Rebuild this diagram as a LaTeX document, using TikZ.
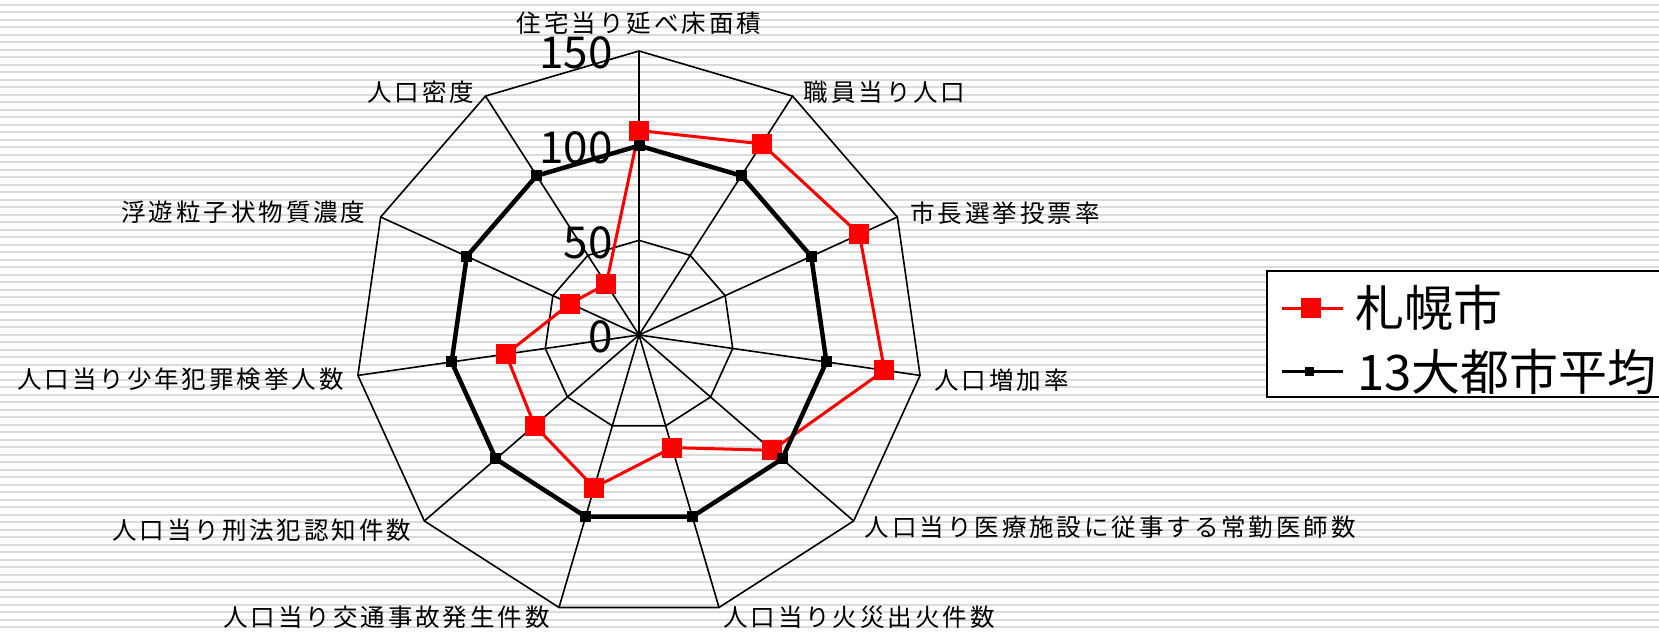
\documentclass[tikz,border=0pt]{standalone}
\usepackage{fontspec}
\setmainfont{Noto Sans CJK JP}
\newfontfamily\axisfont{Noto Sans CJK JP}[LetterSpace=12]
\usepackage{tikz}
\usetikzlibrary{calc}

\tikzset{
	axislabel/.style={font=\axisfont\fontsize{24.5}{25}\selectfont, inner sep=0pt},
	ticklabel/.style={font=\fontsize{44}{44}\selectfont, anchor=east, inner sep=0pt},
	legendtext/.style={font=\fontsize{49}{49}\selectfont, anchor=west, inner sep=0pt},
	webline/.style={line width=1.6pt, line join=miter},
	avgline/.style={line width=4.5pt, line join=miter},
	sapline/.style={red, line width=3pt, line join=miter},
	avgmark/.style={fill=black, minimum size=11pt, inner sep=0pt},
	sapmark/.style={fill=red, minimum size=20pt, inner sep=0pt},
}

\begin{document}
\begin{tikzpicture}[x=1pt,y=1pt]
	\useasboundingbox (0,0) rectangle (1659,634);
	\fill[white] (0,0) rectangle (1659,634);
	
	% striped background
	\foreach \k in {0,...,84} {
		\pgfmathsetmacro{\sy}{629-7.5*\k}
		\draw[black!14, line width=2pt] (0,\sy) -- (1659,\sy);
	}
	
	\coordinate (c) at (639,299);
	\foreach \i in {0,...,10}
		\path (c) ++({90-\i*360/11}:284) coordinate (v\i);
	
	% web
	\foreach \i in {0,...,10}
		\draw[webline] (c) -- (v\i);
	\foreach \r in {94.67,189.33,284}
		\draw[webline, shift={(c)}] plot[samples at={0,...,10}, variable=\t] ({90-\t*360/11}:\r) -- cycle;
	
	% data
	\foreach \v [count=\i from 0] in {108,120,128,131,93,62,84,73,71,40,32}
		\path (c) ++({90-\i*360/11}:{\v*1.8933}) coordinate (s\i);
	\foreach \i in {0,...,10}
		\path (c) ++({90-\i*360/11}:189.33) coordinate (a\i);
	
	\draw[sapline] (s0) \foreach \i in {1,...,10} { -- (s\i) } -- cycle;
	\foreach \i in {0,...,10}
		\node[sapmark] (sm\i) at (s\i) {};
	\draw[avgline] (a0) \foreach \i in {1,...,10} { -- (a\i) } -- cycle;
	\foreach \i in {0,...,10}
		\node[avgmark] (am\i) at (a\i) {};
	
	% scale
	\foreach \t/\r in {0/0,50/94.67,100/189.33,150/284}
		\node[ticklabel] (tick\t) at (613,{297+\r}) {\t};
	
	% axis names
	\node[axislabel, anchor=center] (lab0) at ($(v0)+(0,28)$) {住宅当り延べ床面積};
	\node[axislabel, anchor=west] (lab1) at ($(v1)+(11,4)$) {職員当り人口};
	\node[axislabel, anchor=west] (lab2) at ($(v2)+(13,4)$) {市長選挙投票率};
	\node[axislabel, anchor=west] (lab3) at ($(v3)+(14,-5)$) {人口増加率};
	\node[axislabel, anchor=west] (lab4) at ($(v4)+(11,-6)$) {人口当り医療施設に従事する常勤医師数};
	\node[axislabel, anchor=west] (lab5) at ($(v5)+(4,-10)$) {人口当り火災出火件数};
	\node[axislabel, anchor=east] (lab6) at ($(v6)+(-9,-10)$) {人口当り交通事故発生件数};
	\node[axislabel, anchor=east] (lab7) at ($(v7)+(-13,-9)$) {人口当り刑法犯認知件数};
	\node[axislabel, anchor=east] (lab8) at ($(v8)+(-14,-4)$) {人口当り少年犯罪検挙人数};
	\node[axislabel, anchor=east] (lab9) at ($(v9)+(-15,5)$) {浮遊粒子状物質濃度};
	\node[axislabel, anchor=east] (lab10) at ($(v10)+(-11,4)$) {人口密度};
	
	% legend
	\draw[line width=1.5pt, fill=white] (1267,363) rectangle (1675,237);
	\coordinate (ls1) at (1282,325.7);
	\coordinate (ls2) at (1343,325.7);
	\coordinate (la1) at (1282,262.3);
	\coordinate (la2) at (1343,262.3);
	\draw[sapline] (ls1) -- (ls2);
	\node[sapmark] (lsm) at ($(ls1)!0.47!(ls2)$) {};
	\draw[black, line width=3pt] (la1) -- (la2);
	\node[avgmark, minimum size=9pt] (lam) at ($(la1)!0.45!(la2)$) {};
	\node[legendtext] (lsap) at (1355,326.5) {札幌市};
	\node[legendtext] (lavg) at (1357,262.3) {13大都市平均};
\end{tikzpicture}
\end{document}
